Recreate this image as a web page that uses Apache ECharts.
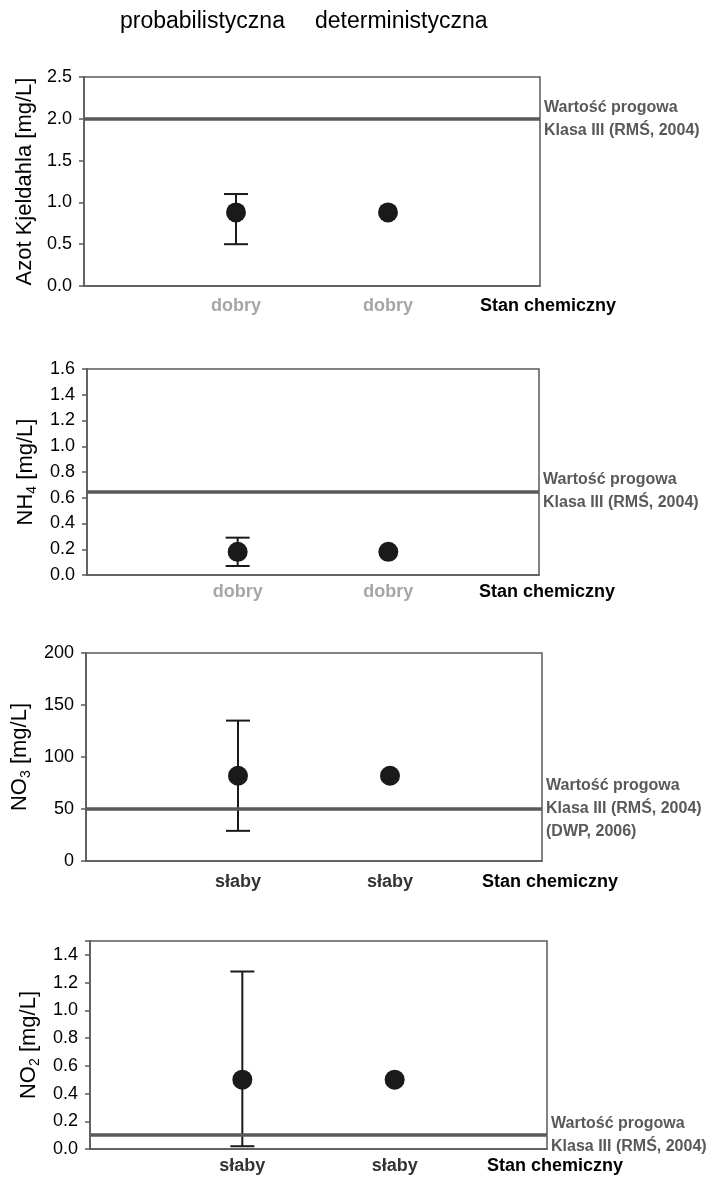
<!DOCTYPE html>
<html>
<head>
<meta charset="utf-8">
<script src="https://cdn.jsdelivr.net/npm/echarts@6/dist/echarts.min.js"></script>
<style>
  html, body { margin: 0; padding: 0; background: #fff; }
  #chart { width: 707px; height: 1177px; }
</style>
</head>
<body>
<div id="chart"></div>
<script>
// data
const methods = ['probabilistyczna', 'deterministyczna']
const xEndLabel = 'Stan chemiczny'
const yNames = ['Azot Kjeldahla [mg/L]', 'NH{sub|4} [mg/L]', 'NO{sub|3} [mg/L]', 'NO{sub|2} [mg/L]']
const stanProb = ['dobry', 'dobry', 'słaby', 'słaby']
const stanDet = ['dobry', 'dobry', 'słaby', 'słaby']
const probMean = [0.88, 0.18, 82, 0.50]
const probLow = [0.50, 0.07, 29, 0.02]
const probHigh = [1.10, 0.29, 135, 1.28]
const detMean = [0.88, 0.18, 82, 0.50]
const thresholds = [2.0, 0.65, 50, 0.1]
const thresholdText = [
  'Wartość progowa\nKlasa III (RMŚ, 2004)',
  'Wartość progowa\nKlasa III (RMŚ, 2004)',
  'Wartość progowa\nKlasa III (RMŚ, 2004)\n(DWP, 2006)',
  'Wartość progowa\nKlasa III (RMŚ, 2004)'
]
const yMax = [2.5, 1.6, 200, 1.5]
const yStep = [0.5, 0.2, 50, 0.2]
const yLabelMax = [2.5, 1.6, 200, 1.4]
const yDecimals = [1, 1, 0, 1]

// layout
const grids = [
  {left: 84, top: 77, width: 456, height: 209},
  {left: 87, top: 369, width: 452, height: 206},
  {left: 86, top: 653, width: 456, height: 208},
  {left: 90, top: 941, width: 457, height: 208},
]
const nameGaps = [41, 48, 46, 48]
const catMargins = [11, 8, 12, 8]
const markShift = [0, 20, 14, 24]
const titleLeft = [115, 310]

const FONT = '"Liberation Sans", Arial, sans-serif'
const AXIS = '#595959'
const INK = '#1a1a1a'

function errorBar(params, api) {
  var lo = api.coord([api.value(0), api.value(1)])
  var hi = api.coord([api.value(0), api.value(2)])
  var w = 12
  var style = {stroke: INK, lineWidth: 2}
  return {
    type: 'group',
    children: [
      {type: 'line', shape: {x1: lo[0], y1: lo[1], x2: hi[0], y2: hi[1]}, style: style},
      {type: 'line', shape: {x1: lo[0] - w, y1: lo[1], x2: lo[0] + w, y2: lo[1]}, style: style},
      {type: 'line', shape: {x1: hi[0] - w, y1: hi[1], x2: hi[0] + w, y2: hi[1]}, style: style},
    ]
  }
}

function catLabel(v) {
  if (!v) return ''
  if (v === 'dobry') return '{g|' + v + '}'
  if (v === 'słaby') return '{d|' + v + '}'
  return '{e|' + v + '}'
}

var option = {
  animation: false,
  title: methods.map((t, i) => ({
    text: t, left: titleLeft[i], top: 5,
    textStyle: {fontSize: 23, fontWeight: 'normal', color: '#000', fontFamily: FONT}
  })),
  grid: grids.map(g => Object.assign({show: true, borderColor: AXIS, borderWidth: 1.5, backgroundColor: '#fff'}, g)),
  xAxis: grids.map((g, i) => ({
    type: 'category',
    gridIndex: i,
    boundaryGap: false,
    data: ['', stanProb[i], stanDet[i], xEndLabel],
    axisLine: {show: true, lineStyle: {color: AXIS, width: 1.5}},
    axisTick: {show: false},
    splitLine: {show: false},
    axisLabel: {
      interval: 0,
      margin: catMargins[i],
      formatter: catLabel,
      rich: {
        g: {fontSize: 18, fontWeight: 'bold', color: '#a6a6a6', fontFamily: FONT},
        d: {fontSize: 18, fontWeight: 'bold', color: '#333', fontFamily: FONT},
        e: {fontSize: 18, fontWeight: 'bold', color: '#000', fontFamily: FONT, padding: [0, 0, 0, 16]},
      }
    }
  })),
  yAxis: grids.map((g, i) => ({
    type: 'value',
    gridIndex: i,
    min: 0,
    max: yMax[i],
    interval: yStep[i],
    name: yNames[i],
    nameLocation: 'middle',
    nameRotate: 90,
    nameGap: nameGaps[i],
    nameTextStyle: {
      fontSize: 22, color: '#000', fontFamily: FONT,
      rich: {sub: {fontSize: 14, color: '#000', fontFamily: FONT, padding: [12, 0, 0, 0]}}
    },
    axisLine: {show: true, lineStyle: {color: AXIS, width: 1.5}},
    axisTick: {show: true, length: 5, lineStyle: {color: AXIS, width: 1.5}},
    splitLine: {show: false},
    axisLabel: {
      fontSize: 18, color: '#000', fontFamily: FONT, margin: 12,
      formatter: v => v > yLabelMax[i] + 1e-9 ? '' : v.toFixed(yDecimals[i])
    }
  })),
  series: []
}

grids.forEach((g, i) => {
  option.series.push({
    type: 'custom',
    xAxisIndex: i,
    yAxisIndex: i,
    z: 2,
    silent: true,
    renderItem: errorBar,
    encode: {x: 0, y: [1, 2]},
    data: [[1, probLow[i], probHigh[i]]]
  })
  option.series.push({
    type: 'scatter',
    xAxisIndex: i,
    yAxisIndex: i,
    z: 3,
    silent: true,
    symbol: 'circle',
    symbolSize: 20,
    itemStyle: {color: INK, opacity: 1},
    data: [[1, probMean[i]], [2, detMean[i]]],
    markLine: {
      silent: true,
      symbol: ['none', 'none'],
      lineStyle: {color: AXIS, width: 3.5, type: 'solid'},
      label: {
        show: true,
        position: 'end',
        distance: 4,
        formatter: thresholdText[i],
        color: AXIS,
        fontWeight: 'bold',
        fontSize: 16,
        lineHeight: 23,
        fontFamily: FONT,
        padding: [0, 0, markShift[i], 0]
      },
      data: [{yAxis: thresholds[i]}]
    }
  })
})

var chart = echarts.init(document.getElementById('chart'), null, {renderer: 'canvas'})
chart.setOption(option)
</script>
</body>
</html>
